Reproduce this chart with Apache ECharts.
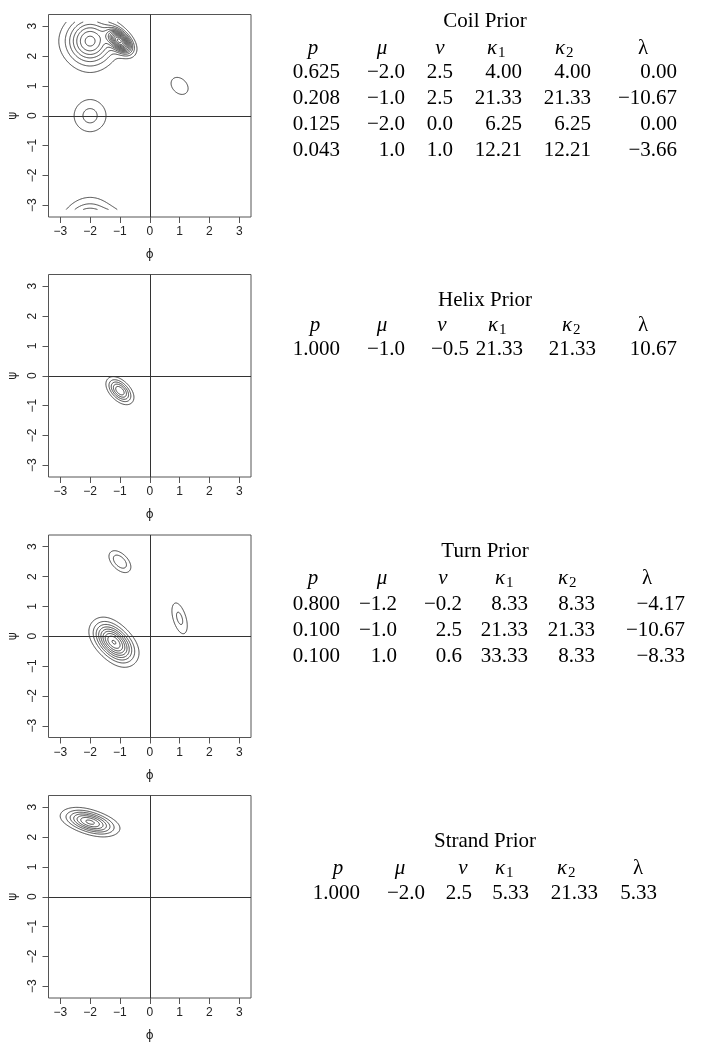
<!DOCTYPE html>
<html>
<head>
<meta charset="utf-8">
<script src="https://cdn.jsdelivr.net/npm/echarts@6/dist/echarts.min.js"></script>
<style>
  html, body { margin: 0; padding: 0; background: #fff; }
  #main { width: 716px; height: 1050px; }
</style>
</head>
<body>
<div id="main"></div>
<script type="text/javascript">
// mixture tables, one array per column
var titles = ['Coil Prior', 'Helix Prior', 'Turn Prior', 'Strand Prior'];

var coilP   = [0.625, 0.208, 0.125, 0.043];
var coilMu  = [-2.0, -1.0, -2.0, 1.0];
var coilNu  = [2.5, 2.5, 0.0, 1.0];
var coilK1  = [4.00, 21.33, 6.25, 12.21];
var coilK2  = [4.00, 21.33, 6.25, 12.21];
var coilLam = [0.00, -10.67, 0.00, -3.66];

var helixP   = [1.000];
var helixMu  = [-1.0];
var helixNu  = [-0.5];
var helixK1  = [21.33];
var helixK2  = [21.33];
var helixLam = [10.67];

var turnP   = [0.800, 0.100, 0.100];
var turnMu  = [-1.2, -1.0, 1.0];
var turnNu  = [-0.2, 2.5, 0.6];
var turnK1  = [8.33, 21.33, 33.33];
var turnK2  = [8.33, 21.33, 8.33];
var turnLam = [-4.17, -10.67, -8.33];

var strandP   = [1.000];
var strandMu  = [-2.0];
var strandNu  = [2.5];
var strandK1  = [5.33];
var strandK2  = [21.33];
var strandLam = [5.33];

var tickValues = [-3, -2, -1, 0, 1, 2, 3];

var tables = [
    [coilP, coilMu, coilNu, coilK1, coilK2, coilLam],
    [helixP, helixMu, helixNu, helixK1, helixK2, helixLam],
    [turnP, turnMu, turnNu, turnK1, turnK2, turnLam],
    [strandP, strandMu, strandNu, strandK1, strandK2, strandLam]
];
var digits = [3, 1, 1, 2, 2, 2];

// page layout
var gridTops = [14.5, 274.5, 535, 795.5];
var gridLeft = 48.5, gridSize = 202.5;
var AX = Math.PI * 1.08;   // R's default 4% axis extension
var lineColor = '#444';

// column positions of each table: header centres, number right edges, rows
var tableLayout = [
    {hx: [313, 382, 440, 497, 565, 643], rx: [340, 405, 453, 522, 591, 677], ty: 21, hy: 48, ry: 72.5, dy: 26},
    {hx: [315, 382, 442, 498, 572, 643], rx: [340, 405, 469, 523, 596, 677], ty: 300, hy: 325, ry: 349, dy: 26},
    {hx: [313, 382, 443, 505, 568, 647], rx: [340, 397, 462, 528, 595, 685], ty: 551, hy: 578, ry: 604, dy: 26},
    {hx: [338, 400, 463, 505, 567, 638], rx: [360, 425, 472, 529, 598, 657], ty: 841, hy: 868, ry: 893.5, dy: 26}
];

// sine-model bivariate von Mises (unnormalised, peak 1)
function vm(phi, psi, mu, nu, k1, k2, lam) {
    var a = phi - mu, b = psi - nu;
    return Math.exp(k1 * (Math.cos(a) - 1) + k2 * (Math.cos(b) - 1) + lam * Math.sin(a) * Math.sin(b));
}

function normConst(mu, nu, k1, k2, lam) {
    var M = 256, h = 2 * Math.PI / M, s = 0;
    for (var i = 0; i < M; i++) {
        for (var j = 0; j < M; j++) {
            s += vm(-Math.PI + (i + 0.5) * h, -Math.PI + (j + 0.5) * h, mu, nu, k1, k2, lam);
        }
    }
    return s * h * h;
}

// R's pretty()
function prettyLevels(lo, hi, n) {
    var cell = (hi - lo) / n;
    var U = Math.pow(10, Math.floor(Math.log10(cell))), unit = U;
    var hb = 1.5, h5 = 0.5 + 1.5 * hb;
    if (2 * U - cell < hb * (cell - unit)) {
        unit = 2 * U;
        if (5 * U - cell < h5 * (cell - unit)) {
            unit = 5 * U;
            if (10 * U - cell < hb * (cell - unit)) unit = 10 * U;
        }
    }
    var ns = Math.floor(lo / unit + 1e-7), nu = Math.ceil(hi / unit - 1e-7);
    var out = [];
    for (var i = ns; i <= nu; i++) out.push(i * unit);
    return out;
}

// marching squares, returns list of [[x,y],[x,y]] segments
function contourSegs(z, xs, level) {
    var segs = [], n = xs.length;
    for (var j = 0; j < n - 1; j++) {
        for (var i = 0; i < n - 1; i++) {
            var v = [z[j][i], z[j][i + 1], z[j + 1][i + 1], z[j + 1][i]];
            var px = [xs[i], xs[i + 1], xs[i + 1], xs[i]];
            var py = [xs[j], xs[j], xs[j + 1], xs[j + 1]];
            var pts = [];
            for (var e = 0; e < 4; e++) {
                var a = e, b = (e + 1) % 4;
                if ((v[a] >= level) !== (v[b] >= level)) {
                    var t = (level - v[a]) / (v[b] - v[a]);
                    pts.push([px[a] + t * (px[b] - px[a]), py[a] + t * (py[b] - py[a])]);
                }
            }
            if (pts.length === 2) {
                segs.push(pts);
            } else if (pts.length === 4) {
                var c = (v[0] + v[1] + v[2] + v[3]) / 4;
                if ((c >= level) === (v[0] >= level)) {
                    segs.push([pts[0], pts[1]]); segs.push([pts[2], pts[3]]);
                } else {
                    segs.push([pts[0], pts[3]]); segs.push([pts[1], pts[2]]);
                }
            }
        }
    }
    return segs;
}

function panelSegments(cols) {
    var p = cols[0], mu = cols[1], nu = cols[2], k1 = cols[3], k2 = cols[4], lam = cols[5];
    // every panel in the reference tilts the same way (down to the right)
    var lamPlot = lam.map(function (l) { return -Math.abs(l); });
    var Z = p.map(function (_, k) { return normConst(mu[k], nu[k], k1[k], k2[k], lamPlot[k]); });
    var N = 241, xs = [];
    for (var i = 0; i < N; i++) xs.push(-Math.PI + i * 2 * Math.PI / (N - 1));
    var z = [], lo = Infinity, hi = -Infinity;
    for (var j = 0; j < N; j++) {
        var row = [];
        for (var i2 = 0; i2 < N; i2++) {
            var d = 0;
            for (var k = 0; k < p.length; k++) {
                d += p[k] * vm(xs[i2], xs[j], mu[k], nu[k], k1[k], k2[k], lamPlot[k]) / Z[k];
            }
            row.push(d);
            if (d < lo) lo = d;
            if (d > hi) hi = d;
        }
        z.push(row);
    }
    var levels = prettyLevels(lo, hi, 10);
    var segs = [];
    levels.forEach(function (lv) {
        if (lv > lo && lv < hi) segs = segs.concat(contourSegs(z, xs, lv));
    });
    return segs;
}

function fmtNum(v, d) {
    return (v < 0 ? '\u2212' : '') + Math.abs(v).toFixed(d);
}

var tickFmt = function (v) { return v < 0 ? '\u2212' + Math.abs(v) : String(v); };

var grids = [], xAxes = [], yAxes = [], series = [], graphics = [];

titles.forEach(function (title, k) {
    grids.push({
        left: gridLeft, top: gridTops[k], width: gridSize, height: gridSize,
        show: true, borderColor: '#555', borderWidth: 1, backgroundColor: 'transparent'
    });
    var axisCommon = {
        gridIndex: k, type: 'value', min: -AX, max: AX,
        splitLine: {show: false},
        axisLine: {show: false, onZero: false},
        axisTick: {show: true, length: 6, customValues: tickValues, lineStyle: {color: '#555'}},
        axisLabel: {
            customValues: tickValues, formatter: tickFmt,
            fontFamily: 'Liberation Sans', fontSize: 12, color: '#222', margin: 9
        },
        nameLocation: 'middle',
        nameTextStyle: {fontFamily: 'DejaVu Sans', fontSize: 12, color: '#222'}
    };
    xAxes.push(Object.assign({}, axisCommon, {name: '\u03d5', nameGap: 32}));
    yAxes.push(Object.assign({}, axisCommon, {
        name: '\u03c8', nameGap: 30,
        axisLabel: Object.assign({}, axisCommon.axisLabel, {rotate: 90, margin: 10})
    }));

    var segs = panelSegments(tables[k]);
    series.push({
        type: 'lines', coordinateSystem: 'cartesian2d', xAxisIndex: k, yAxisIndex: k,
        large: true, largeThreshold: 10, progressive: 0, silent: true,
        lineStyle: {color: lineColor, width: 1, opacity: 1},
        data: segs.map(function (s) { return {coords: s}; })
    });
    series.push({
        type: 'line', xAxisIndex: k, yAxisIndex: k, data: [], silent: true,
        markLine: {
            silent: true, symbol: ['none', 'none'], label: {show: false},
            lineStyle: {color: '#333', type: 'solid', width: 1},
            data: [{xAxis: 0}, {yAxis: 0}]
        }
    });

    // table beside the panel
    var L = tableLayout[k], cols = tables[k];
    var serif = '"Liberation Serif", "DejaVu Serif", serif';
    graphics.push({
        type: 'text', x: 485, y: L.ty,
        style: {text: title, font: '21px ' + serif, fill: '#000',
            align: 'center', textAlign: 'center', verticalAlign: 'middle', textVerticalAlign: 'middle'}
    });
    var heads = ['p', '\u03bc', '\u03bd', '\u03ba', '\u03ba', '\u03bb'];
    var subs = ['', '', '', '1', '2', ''];
    var italic = [true, true, true, true, true, false];
    heads.forEach(function (h, c) {
        var hasSub = subs[c] !== '';
        graphics.push({
            type: 'text', x: hasSub ? L.hx[c] - 10 : L.hx[c], y: L.hy,
            style: {text: h, font: (italic[c] ? 'italic ' : '') + '21px ' + serif, fill: '#000',
                align: hasSub ? 'left' : 'center', textAlign: hasSub ? 'left' : 'center',
                verticalAlign: 'middle', textVerticalAlign: 'middle'}
        });
        if (hasSub) {
            graphics.push({
                type: 'text', x: L.hx[c] + 1, y: L.hy + 5,
                style: {text: subs[c], font: '15px ' + serif, fill: '#000',
                    align: 'left', textAlign: 'left', verticalAlign: 'middle', textVerticalAlign: 'middle'}
            });
        }
    });
    cols[0].forEach(function (_, r) {
        cols.forEach(function (col, c) {
            graphics.push({
                type: 'text', x: L.rx[c], y: L.ry + r * L.dy,
                style: {text: fmtNum(col[r], digits[c]), font: '21px ' + serif, fill: '#000',
                    align: 'right', textAlign: 'right', verticalAlign: 'middle', textVerticalAlign: 'middle'}
            });
        });
    });
});

var myChart = echarts.init(document.getElementById('main'), null, {renderer: 'canvas'});
var option = {
    backgroundColor: '#fff',
    animation: false,
    grid: grids,
    xAxis: xAxes,
    yAxis: yAxes,
    series: series,
    graphic: {elements: graphics}
};
myChart.setOption(option);
</script>
</body>
</html>
